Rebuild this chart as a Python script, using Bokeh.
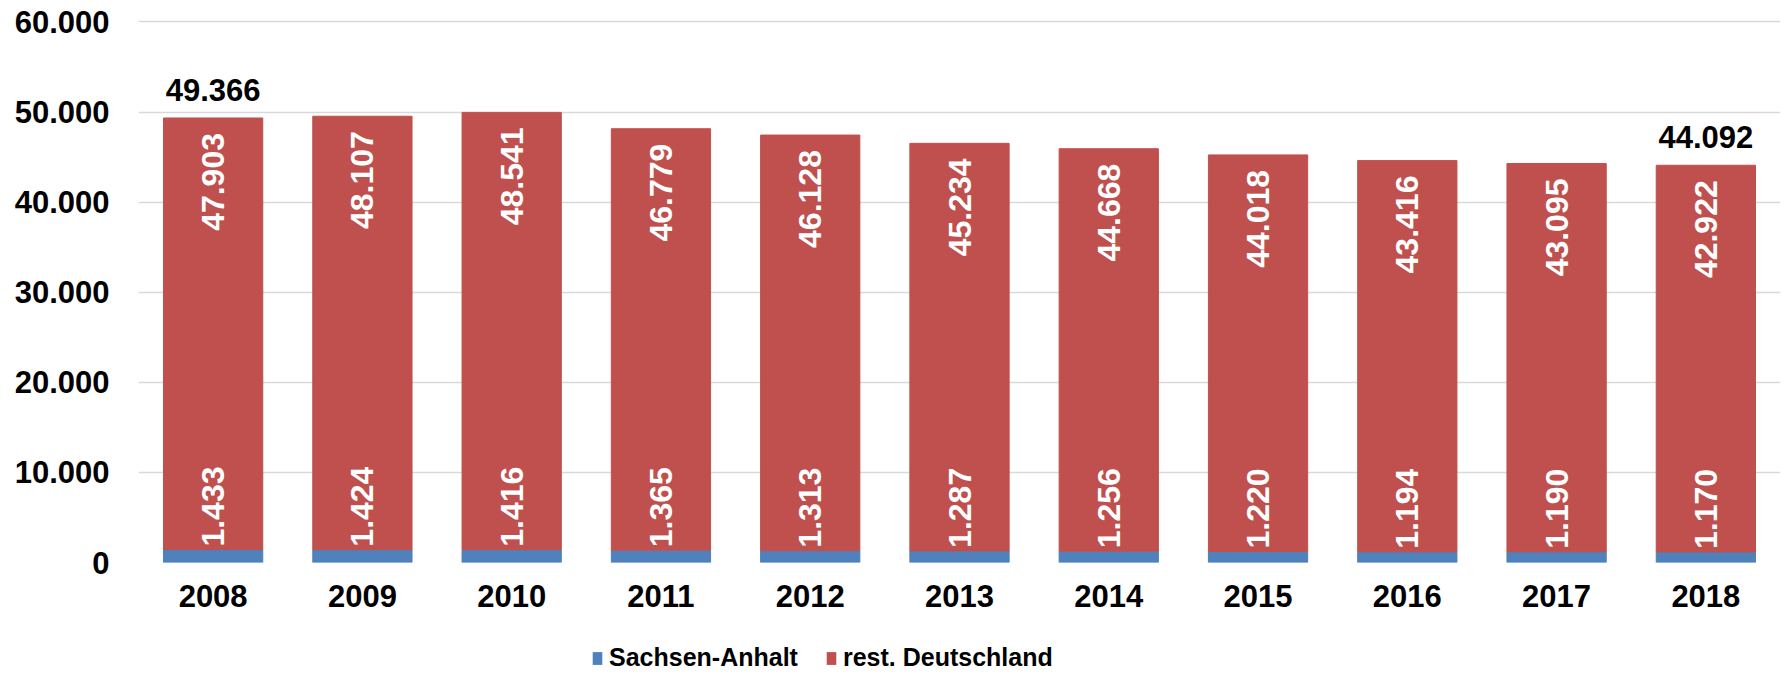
import math
from bokeh.plotting import figure
from bokeh.layouts import column
from bokeh.models import ColumnDataSource, Range1d, FixedTicker, Legend, LegendItem
from bokeh.core.properties import value
from bokeh.embed import file_html
from bokeh.resources import INLINE

years = ["2008", "2009", "2010", "2011", "2012", "2013", "2014", "2015", "2016", "2017", "2018"]
sachsen = [1433, 1424, 1416, 1365, 1313, 1287, 1256, 1220, 1194, 1190, 1170]
rest = [47903, 48107, 48541, 46779, 46128, 45234, 44668, 44018, 43416, 43095, 42922]
total_years = ["2008", "2018"]
total_labels = ["49.366", "44.092"]
y_ticks = [0, 10000, 20000, 30000, 40000, 50000, 60000]
y_tick_labels = ["0", "10.000", "20.000", "30.000", "40.000", "50.000", "60.000"]
series_names = ["Sachsen-Anhalt", "rest. Deutschland"]

BLUE = "#4F81BD"
RED = "#C0504D"
FONT = "Liberation Sans"


def de(v):
    return f"{v:,}".replace(",", ".")


top = [s + r for s, r in zip(sachsen, rest)]
src = ColumnDataSource(dict(
    year=years, sachsen=sachsen, rest=rest, top=top,
    s_lab=[de(v) for v in sachsen], r_lab=[de(v) for v in rest],
))
tot_y = [top[years.index(y)] for y in total_years]
tot_src = ColumnDataSource(dict(year=total_years, y=tot_y, lab=total_labels))

p = figure(x_range=years, y_range=Range1d(0, 60600), width=1782, height=630,
           output_backend="svg", toolbar_location=None,
           min_border_left=138, min_border_right=2, min_border_top=16,
           min_border_bottom=68)
p.outline_line_color = None
p.background_fill_color = "white"

rs = p.vbar_stack(["sachsen", "rest"], x="year", width=0.665, color=[BLUE, RED],
                  source=src)

# labels inside bars (rotated)
p.text(x="year", y="sachsen", text="s_lab", source=src, angle=math.pi / 2,
       text_align="left", text_baseline="middle", text_color="white",
       text_font=value(FONT), text_font_style="bold", text_font_size="32px",
       y_offset=-3)
p.text(x="year", y="top", text="r_lab", source=src, angle=math.pi / 2,
       text_align="right", text_baseline="middle", text_color="white",
       text_font=value(FONT), text_font_style="bold", text_font_size="32px",
       y_offset=15)
# totals
p.text(x="year", y="y", text="lab", source=tot_src,
       text_align="center", text_baseline="alphabetic", text_color="black",
       text_font=value(FONT), text_font_style="bold", text_font_size="31px",
       y_offset=-28)

p.xgrid.grid_line_color = None
p.ygrid.grid_line_color = "#D9D9D9"
p.ygrid.grid_line_width = 1.5

p.yaxis.ticker = FixedTicker(ticks=y_ticks)
p.yaxis.major_label_overrides = {t: l for t, l in zip(y_ticks, y_tick_labels)}
for ax in (p.xaxis[0], p.yaxis[0]):
    ax.axis_line_color = None
    ax.major_tick_line_color = None
    ax.minor_tick_line_color = None
    ax.major_tick_out = 0
    ax.major_tick_in = 0
    ax.major_label_text_font = FONT
    ax.major_label_text_font_style = "bold"
    ax.major_label_text_font_size = "31px"
    ax.major_label_text_color = "black"
p.yaxis.major_label_standoff = 29
p.xaxis.major_label_standoff = 22

# legend strip below the chart
p2 = figure(width=1782, height=44, output_backend="svg", toolbar_location=None,
            x_range=Range1d(0, 1), y_range=Range1d(0, 1),
            x_axis_type=None, y_axis_type=None,
            min_border=0, min_border_left=0, min_border_right=0,
            min_border_top=0, min_border_bottom=0)
p2.outline_line_color = None
p2.xgrid.grid_line_color = None
p2.ygrid.grid_line_color = None
dummies = [p2.rect(x=[-5], y=[-5], width=[0.01], height=[0.01], color=c, line_color=None)
           for c in (BLUE, RED)]

lg = Legend(items=[LegendItem(label=n, renderers=[r]) for n, r in zip(series_names, dummies)])
lg.orientation = "horizontal"
lg.location = (453, 2)
lg.border_line_color = None
lg.background_fill_alpha = 0
lg.padding = 0
lg.margin = 0
lg.glyph_width = 12
lg.glyph_height = 16
lg.label_standoff = 6
lg.spacing = 27
lg.label_text_font = FONT
lg.label_text_font_style = "bold"
lg.label_text_font_size = "25px"
lg.label_text_color = "black"
p2.add_layout(lg, "center")

open("out.html", "w").write(file_html(column(p, p2, spacing=0), INLINE))
